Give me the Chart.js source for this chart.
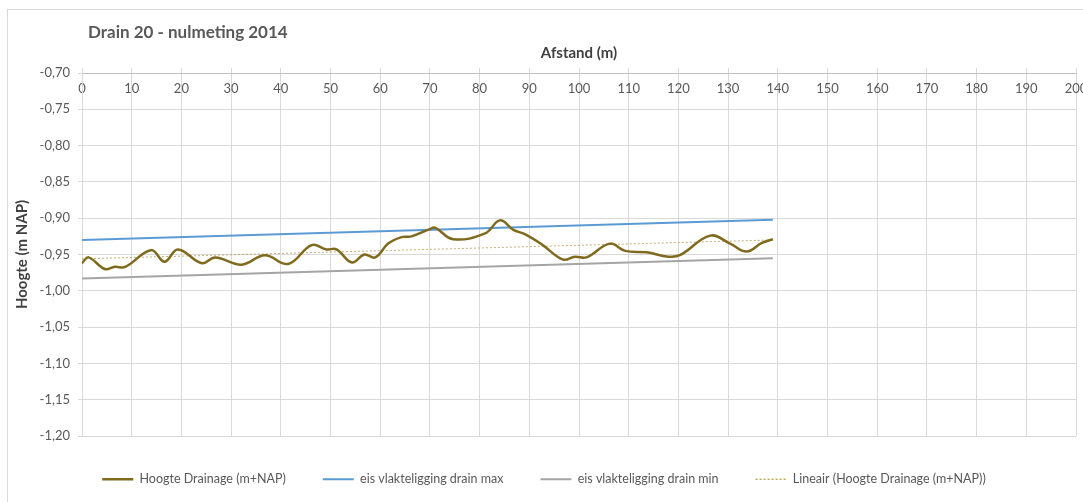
<!DOCTYPE html>
<html>
<head>
<meta charset="utf-8">
<script src="https://cdn.jsdelivr.net/npm/chart.js@4.4.0/dist/chart.umd.min.js"></script>
<style>
  html, body { margin: 0; padding: 0; background: #fff; overflow: hidden; }
  #frame { position: absolute; left: 7px; top: 9px; width: 1100px; height: 520px; border: 1px solid #d9d9d9; }
  #wrap { position: absolute; left: 0; top: 0; width: 1083px; height: 502px; }
</style>
</head>
<body>
<div id="frame"></div>
<div id="wrap"><canvas id="chart"></canvas></div>
<script>
// === Data ===
const chartTitle = 'Drain 20 - nulmeting 2014';
const xTitle = 'Afstand (m)';
const yTitle = 'Hoogte (m NAP)';

// measured drain profile (afstand in m, hoogte in m+NAP)
const drainAfstand = [0, 1.3, 4.6, 6.6, 8.7, 13.9, 16.6, 19.3, 24.1, 26.8, 32.1, 36.8, 41.5, 46.2,
  49.2, 51.2, 54.3, 56.8, 59.0, 61.6, 64.3, 66.3, 70.0, 71.0, 74.7, 81.1, 84.1, 86.8, 89.1, 92.5,
  96.8, 99.2, 101.5, 106.2, 109.3, 113.6, 118.0, 120.3, 126.4, 130.4, 133.7, 136.8, 139.0];
const drainHoogte = [-0.962, -0.954, -0.970, -0.967, -0.967, -0.944, -0.960, -0.943, -0.962, -0.954,
  -0.964, -0.951, -0.963, -0.937, -0.943, -0.943, -0.961, -0.950, -0.954, -0.935, -0.926, -0.925,
  -0.915, -0.913, -0.929, -0.921, -0.903, -0.916, -0.922, -0.936, -0.957, -0.953, -0.954, -0.935,
  -0.945, -0.947, -0.953, -0.951, -0.924, -0.935, -0.946, -0.934, -0.929];

// requirement lines and trend (begin / end)
const eisAfstand = [0, 139];
const eisMax = [-0.930, -0.902];
const eisMin = [-0.983, -0.955];
const trendHoogte = [-0.956, -0.930];

const labels = ['Hoogte Drainage (m+NAP)', 'eis vlakteligging drain max',
  'eis vlakteligging drain min', 'Lineair (Hoogte Drainage (m+NAP))'];

const FONT = 'Lato, "Open Sans", sans-serif';

const toPoints = (xs, ys) => xs.map((x, i) => ({ x, y: ys[i] }));

// === Title plugin ===
const mainTitle = {
  id: 'mainTitle',
  afterDraw(chart) {
    const ctx = chart.ctx;
    ctx.save();
    ctx.font = 'bold 17px ' + FONT;
    ctx.fillStyle = '#595959';
    ctx.textBaseline = 'middle';
    ctx.fillText(chartTitle, 88, 33);
    ctx.restore();
  }
};

// === Chart ===
new Chart(document.getElementById('chart'), {
  type: 'line',
  data: {
    datasets: [{
      label: labels[0],
      data: toPoints(drainAfstand, drainHoogte),
      borderColor: '#7f6a1e',
      backgroundColor: '#7f6a1e',
      borderWidth: 2.5,
      tension: 0.4,
      pointRadius: 0
    }, {
      label: labels[1],
      data: toPoints(eisAfstand, eisMax),
      borderColor: '#5b9bd5',
      backgroundColor: '#5b9bd5',
      borderWidth: 2,
      pointRadius: 0
    }, {
      label: labels[2],
      data: toPoints(eisAfstand, eisMin),
      borderColor: '#a5a5a5',
      backgroundColor: '#a5a5a5',
      borderWidth: 2,
      pointRadius: 0
    }, {
      label: labels[3],
      data: toPoints(eisAfstand, trendHoogte),
      borderColor: 'rgba(175,150,60,0.75)',
      backgroundColor: 'rgba(175,150,60,0.75)',
      borderWidth: 1,
      borderDash: [2, 2],
      pointRadius: 0
    }]
  },
  options: {
    responsive: true,
    maintainAspectRatio: false,
    animation: false,
    layout: { padding: { left: 12, right: 7, top: 44, bottom: 6.5 } },
    scales: {
      x: {
        type: 'linear',
        position: 'top',
        min: 0,
        max: 200,
        grid: { color: '#d9d9d9', tickLength: 5 },
        border: { color: '#bfbfbf' },
        ticks: {
          stepSize: 10,
          maxRotation: 0,
          mirror: true,      // labels sit just below the axis line, inside the plot
          padding: 8,
          color: '#595959',
          font: { family: FONT, size: 13 }
        },
        title: {
          display: true,
          text: xTitle,
          color: '#404040',
          padding: { top: 0, bottom: 0 },
          font: { family: FONT, size: 15, weight: 'bold' }
        },
        afterFit(s) { s.height = 29; s.paddingLeft = 0; s.paddingRight = 0; }
      },
      y: {
        min: -1.2,
        max: -0.7,
        grid: { color: '#d9d9d9', tickLength: 4 },
        border: { color: '#d9d9d9' },
        ticks: {
          stepSize: 0.05,
          padding: 8,
          color: '#595959',
          font: { family: FONT, size: 13 },
          callback: v => v.toFixed(2).replace('.', ',')
        },
        title: {
          display: true,
          text: yTitle,
          color: '#404040',
          padding: { top: 1, bottom: 0 },
          font: { family: FONT, size: 15, weight: 'bold' }
        },
        afterFit(s) { s.width = 70; }
      }
    },
    plugins: {
      legend: {
        position: 'bottom',
        labels: {
          boxWidth: 31,
          boxHeight: 0,
          padding: 37,
          color: '#595959',
          font: { family: FONT, size: 12.5 }
        }
      },
      tooltip: { enabled: false }
    }
  },
  plugins: [mainTitle]
});
</script>
</body>
</html>
